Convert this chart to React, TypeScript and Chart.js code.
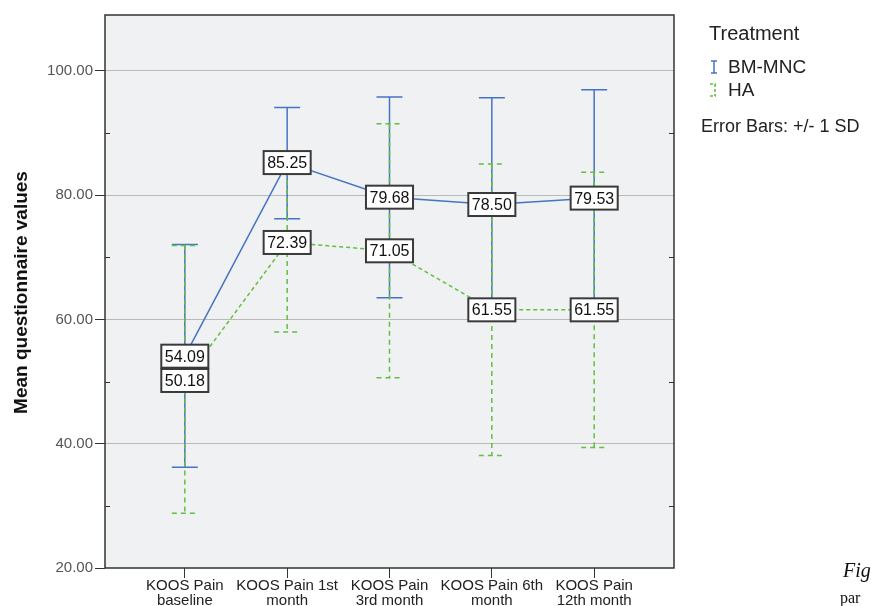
import React, { useEffect, useRef } from "react";
import { Chart, registerables } from "chart.js";

Chart.register(...registerables);

const categories: string[][] = [
  ["KOOS Pain", "baseline"],
  ["KOOS Pain 1st", "month"],
  ["KOOS Pain", "3rd month"],
  ["KOOS Pain 6th", "month"],
  ["KOOS Pain", "12th month"],
];
const bmMean = [54.09, 85.25, 79.68, 78.5, 79.53];
const bmUpper = [72.05, 94.1, 95.8, 95.7, 96.95];
const bmLower = [36.2, 76.2, 63.5, 61.3, 62.1];
const haMean = [50.18, 72.39, 71.05, 61.55, 61.55];
const haUpper = [71.9, 86.8, 91.5, 85.0, 83.7];
const haLower = [28.8, 58.0, 50.6, 38.1, 39.4];
const yTicks = [20, 40, 60, 80, 100];
const yMinorTicks = [30, 50, 70, 90];
const seriesNames = ["BM-MNC", "HA"];

const BLUE = "#4674c4";
const GREEN = "#62bf3f";
const FONT = "Arial, 'Liberation Sans', sans-serif";

export default function App() {
  const ref = useRef<HTMLCanvasElement | null>(null);
  useEffect(() => {
    if (!ref.current) return;
    const errorBars = [
      { upper: bmUpper, lower: bmLower, color: BLUE, dash: [] as number[] },
      { upper: haUpper, lower: haLower, color: GREEN, dash: [5, 4] },
    ];
    const means = [bmMean, haMean];

    const plugin = {
      id: "custom",
      beforeDraw(chart: any) {
        const { ctx, chartArea: a } = chart;
        ctx.save();
        ctx.fillStyle = "#ffffff";
        ctx.fillRect(0, 0, chart.width, chart.height);
        ctx.fillStyle = "#eff1f2";
        ctx.fillRect(a.left, a.top, a.right - a.left, a.bottom - a.top);
        ctx.restore();
      },
      beforeDatasetsDraw(chart: any) {
        const { ctx, scales } = chart;
        const xs = scales.x, ys = scales.y;
        ctx.save();
        errorBars.forEach((eb) => {
          ctx.strokeStyle = eb.color;
          ctx.lineWidth = 1.5;
          ctx.setLineDash(eb.dash);
          eb.upper.forEach((u, i) => {
            const x = xs.getPixelForValue(i);
            const yu = ys.getPixelForValue(u);
            const yl = ys.getPixelForValue(eb.lower[i]);
            ctx.beginPath();
            ctx.moveTo(x, yu);
            ctx.lineTo(x, yl);
            ctx.moveTo(x - 13, yu);
            ctx.lineTo(x + 13, yu);
            ctx.moveTo(x - 13, yl);
            ctx.lineTo(x + 13, yl);
            ctx.stroke();
          });
        });
        ctx.restore();
      },
      afterDatasetsDraw(chart: any) {
        const { ctx, scales, chartArea: a } = chart;
        const xs = scales.x, ys = scales.y;
        ctx.save();
        // value labels
        ctx.font = `16px ${FONT}`;
        ctx.textAlign = "center";
        ctx.textBaseline = "middle";
        means.forEach((arr) => {
          arr.forEach((v, i) => {
            const x = xs.getPixelForValue(i);
            const y = ys.getPixelForValue(v);
            const t = v.toFixed(2);
            const w = ctx.measureText(t).width + 7;
            const h = 23;
            ctx.fillStyle = "#ffffff";
            ctx.fillRect(x - w / 2, y - h / 2, w, h);
            ctx.strokeStyle = "#3a3a3a";
            ctx.lineWidth = 2;
            ctx.strokeRect(x - w / 2, y - h / 2, w, h);
            ctx.fillStyle = "#111";
            ctx.fillText(t, x, y + 1);
          });
        });
        // border
        ctx.strokeStyle = "#333";
        ctx.lineWidth = 1.5;
        ctx.strokeRect(a.left, a.top, a.right - a.left, a.bottom - a.top);
        // minor ticks
        ctx.lineWidth = 1;
        yMinorTicks.forEach((v) => {
          const y = Math.round(ys.getPixelForValue(v)) + 0.5;
          ctx.beginPath();
          ctx.moveTo(a.left, y);
          ctx.lineTo(a.left + 5, y);
          ctx.moveTo(a.right - 5, y);
          ctx.lineTo(a.right, y);
          ctx.stroke();
        });
        // axis title
        ctx.save();
        ctx.translate(22, (a.top + a.bottom) / 2 + 1);
        ctx.rotate(-Math.PI / 2);
        ctx.font = `bold 19px ${FONT}`;
        ctx.fillStyle = "#111";
        ctx.textAlign = "center";
        ctx.textBaseline = "middle";
        ctx.fillText("Mean questionnaire values", 0, 0);
        ctx.restore();
        // legend
        ctx.textAlign = "left";
        ctx.textBaseline = "middle";
        ctx.fillStyle = "#222";
        ctx.font = `20px ${FONT}`;
        ctx.fillText("Treatment", 709, 34);
        ctx.font = `19px ${FONT}`;
        ctx.fillText(seriesNames[0], 728, 68);
        ctx.fillText(seriesNames[1], 728, 91);
        ctx.font = `18px ${FONT}`;
        ctx.fillText("Error Bars: +/- 1 SD", 701, 127);
        // legend icons
        ctx.lineWidth = 1.5;
        ctx.strokeStyle = BLUE;
        ctx.beginPath();
        ctx.moveTo(711, 61); ctx.lineTo(717, 61);
        ctx.moveTo(714, 61); ctx.lineTo(714, 73);
        ctx.moveTo(711, 73); ctx.lineTo(717, 73);
        ctx.stroke();
        ctx.strokeStyle = GREEN;
        ctx.setLineDash([3, 2]);
        ctx.beginPath();
        ctx.moveTo(710, 84); ctx.lineTo(716, 84);
        ctx.moveTo(715, 84); ctx.lineTo(715, 96);
        ctx.moveTo(710, 96); ctx.lineTo(716, 96);
        ctx.stroke();
        ctx.setLineDash([]);
        // caption fragments
        ctx.fillStyle = "#111";
        ctx.font = `italic 20px 'Liberation Serif', 'DejaVu Serif', serif`;
        ctx.fillText("Fig", 843, 572);
        ctx.font = `16px 'Liberation Serif', 'DejaVu Serif', serif`;
        ctx.fillText("par", 840, 599);
        ctx.restore();
      },
    };

    const chart = new Chart(ref.current, {
      type: "line",
      data: {
        datasets: [
          {
            label: seriesNames[0],
            data: bmMean.map((v, i) => ({ x: i, y: v })),
            borderColor: BLUE,
            borderWidth: 1.5,
            pointRadius: 0,
            fill: false,
          },
          {
            label: seriesNames[1],
            data: haMean.map((v, i) => ({ x: i, y: v })),
            borderColor: GREEN,
            borderWidth: 1.5,
            borderDash: [4, 3],
            pointRadius: 0,
            fill: false,
          },
        ],
      },
      options: {
        responsive: false,
        animation: false,
        layout: { padding: { top: 15, right: 197, left: 0, bottom: 0 } },
        plugins: { legend: { display: false }, tooltip: { enabled: false } },
        scales: {
          x: {
            type: "linear",
            min: -0.78,
            max: 4.78,
            afterBuildTicks: (s: any) => {
              s.ticks = categories.map((_, i) => ({ value: i }));
            },
            afterFit: (s: any) => {
              s.height = 38;
            },
            grid: { drawOnChartArea: false, tickLength: 10, tickColor: "#333" },
            border: { display: false },
            ticks: {
              autoSkip: false,
              maxRotation: 0,
              padding: 0,
              color: "#222",
              font: { family: FONT, size: 15, lineHeight: 1.0 },
              callback: (v: any) => categories[v] ?? "",
            },
          },
          y: {
            min: 20,
            max: 109,
            afterBuildTicks: (s: any) => {
              s.ticks = yTicks.map((v) => ({ value: v }));
            },
            afterFit: (s: any) => {
              s.width = 105;
            },
            grid: {
              color: (c: any) => (c.tick && c.tick.value === 20 ? "rgba(0,0,0,0)" : "#b9b9b9"),
              tickLength: 10,
              tickColor: "#333",
            },
            border: { display: false },
            ticks: {
              padding: 2,
              color: "#555",
              font: { family: FONT, size: 15 },
              callback: (v: any) => Number(v).toFixed(2),
            },
          },
        },
      },
      plugins: [plugin],
    } as any);
    return () => chart.destroy();
  }, []);

  return (
    <div style={{ position: "fixed", left: 0, top: 0, width: 871, height: 606 }}>
      <canvas ref={ref} width={871} height={606} />
    </div>
  );
}
